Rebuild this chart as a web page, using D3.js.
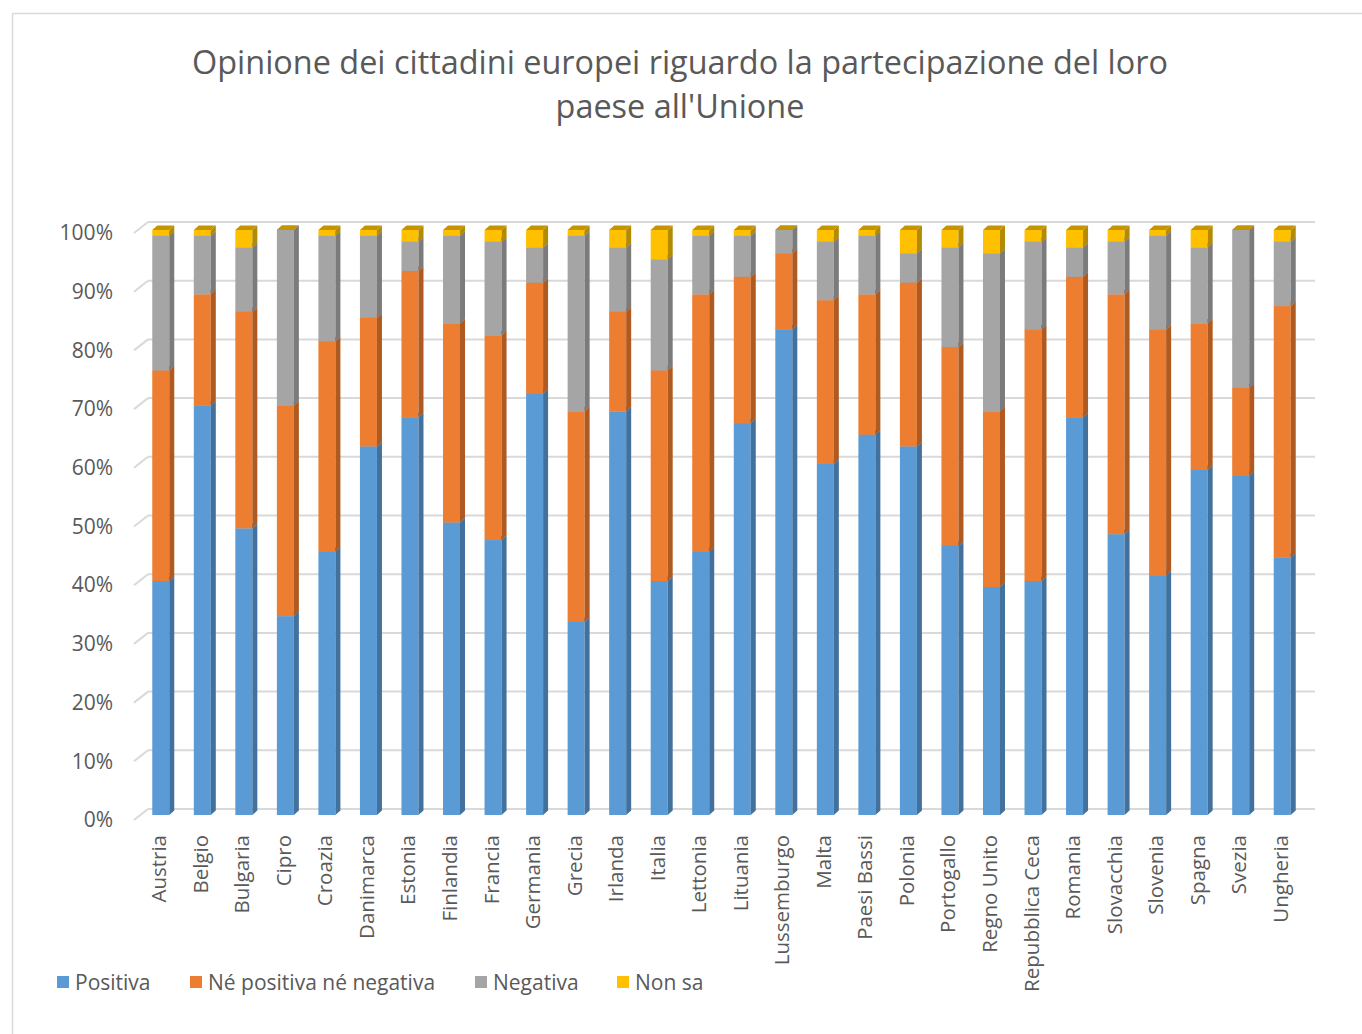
<!DOCTYPE html>
<html><head><meta charset="utf-8">
<script src="https://cdn.jsdelivr.net/npm/d3@7"></script>
<style>html,body{margin:0;padding:0;background:#fff;}svg{display:block;}</style>
</head><body>
<script>
const countries = ["Austria","Belgio","Bulgaria","Cipro","Croazia","Danimarca","Estonia","Finlandia","Francia","Germania","Grecia","Irlanda","Italia","Lettonia","Lituania","Lussemburgo","Malta","Paesi Bassi","Polonia","Portogallo","Regno Unito","Repubblica Ceca","Romania","Slovacchia","Slovenia","Spagna","Svezia","Ungheria"];
const positiva = [40,70,49,34,45,63,68,50,47,72,33,69,40,45,67,83,60,65,63,46,39,40,68,48,41,59,58,44];
const neutra   = [36,19,37,36,36,22,25,34,35,19,36,17,36,44,25,13,28,24,28,34,30,43,24,41,42,25,15,43];
const negativa = [23,10,11,30,18,14,5,15,16,6,30,11,19,10,7,4,10,10,5,17,27,15,5,9,16,13,27,11];
const nonsa    = [1,1,3,0,1,1,2,1,2,3,1,3,5,1,1,0,2,1,4,3,4,2,3,2,1,3,0,2];
const seriesNames = ["Positiva","Né positiva né negativa","Negativa","Non sa"];
const yTicks = [0,0.1,0.2,0.3,0.4,0.5,0.6,0.7,0.8,0.9,1];
const titleLines = ["Opinione dei cittadini europei riguardo la partecipazione del loro","paese all'Unione"];

const W = 1362, H = 1034;
const font = "'Open Sans', 'DejaVu Sans', sans-serif";
const txt = "#595959";
const colors = ["#5B9BD5","#ED7D31","#A5A5A5","#FFC000"];
const sideCol = ["#41719C","#AE5A21","#7B7B7B","#B38A00"];
const topCol = ["#4C88C0","#C8661F","#8E8E8E","#C49500"];

const svg = d3.select("body").append("svg").attr("width", W).attr("height", H);
svg.append("rect").attr("width", W).attr("height", H).attr("fill", "#fff");
svg.append("rect").attr("x", 12.5).attr("y", 13.5).attr("width", 1420).attr("height", 1100)
  .attr("fill", "none").attr("stroke", "#d9d9d9").attr("stroke-width", 1.5);

// title
const tg = svg.append("g");
const t1 = tg.append("text").attr("x", 680).attr("y", 74).attr("text-anchor", "middle")
  .attr("font-family", font).attr("font-size", 30).attr("fill", txt).text(titleLines[0]);
const w1 = t1.node().getComputedTextLength();
const tSize = 30 * 976 / w1;
t1.attr("font-size", tSize);
tg.append("text").attr("x", 680).attr("y", 118).attr("text-anchor", "middle")
  .attr("font-family", font).attr("font-size", tSize).attr("fill", txt).text(titleLines[1]);

// scales
const yFront = d3.scaleLinear().domain([0,1]).range([820,233]);
const yBack = d3.scaleLinear().domain([0,1]).range([809,222]);
const yBar = d3.scaleLinear().domain([0,100]).range([815,230]);
const x = d3.scaleBand().domain(countries).range([140,1303]).paddingInner(0).paddingOuter(0);
const xBackL = 148, xBackR = 1315, xFrontL = 134;

// gridlines (back wall) + diagonal floor ticks
const grid = svg.append("g");
yTicks.forEach(v => {
  grid.append("line").attr("x1", xBackL).attr("x2", xBackR).attr("y1", yBack(v)).attr("y2", yBack(v))
    .attr("stroke", "#d9d9d9").attr("stroke-width", 2);
  grid.append("line").attr("x1", xFrontL).attr("x2", xBackL).attr("y1", yFront(v)).attr("y2", yBack(v))
    .attr("stroke", "#d9d9d9").attr("stroke-width", 2);
});

// y axis labels
const yAxis = svg.append("g").attr("transform", "translate(120,0)")
  .call(d3.axisLeft(yFront).tickValues(yTicks).tickSize(0).tickPadding(7).tickFormat(d3.format(".0%")));
yAxis.select(".domain").remove();
yAxis.selectAll("text").attr("font-family", font).attr("font-size", 21).attr("fill", txt);

// bars
const series = [positiva, neutra, negativa, nonsa];
const bw = 17, dx = 5, dy = -4.5;
const barsG = svg.append("g");
countries.forEach((c, i) => {
  const cx = x(c) + x.bandwidth() / 2;
  const xl = cx - bw / 2, xr = cx + bw / 2;
  let acc = 0;
  series.forEach((s, k) => {
    const v = s[i];
    const y0 = yBar(acc), y1 = yBar(acc + v);
    acc += v;
    const g = barsG.append("g");
    g.append("rect").attr("x", xl).attr("y", y1).attr("width", bw).attr("height", Math.max(0, y0 - y1)).attr("fill", colors[k]);
    g.append("path").attr("d", `M${xr},${y1}L${xr+dx},${y1+dy}L${xr+dx},${y0+dy}L${xr},${y0}Z`).attr("fill", sideCol[k]);
    g.append("path").attr("d", `M${xl},${y1}L${xr},${y1}L${xr+dx},${y1+dy}L${xl+dx},${y1+dy}Z`).attr("fill", topCol[k]);
  });
});

// x labels
const xl = svg.append("g");
countries.forEach(c => {
  const cx = x(c) + x.bandwidth() / 2;
  xl.append("text").attr("transform", `translate(${cx + 5.5},835) rotate(-90)`)
    .attr("text-anchor", "end").attr("font-family", font).attr("font-size", 20.5).attr("fill", txt).text(c);
});

// legend
const legX = [57, 190, 475, 617];
const lg = svg.append("g");
seriesNames.forEach((n, k) => {
  lg.append("rect").attr("x", legX[k]).attr("y", 976).attr("width", 12).attr("height", 12).attr("fill", colors[k]);
  lg.append("text").attr("x", legX[k] + 18).attr("y", 990).attr("font-family", font).attr("font-size", 21)
    .attr("fill", txt).text(n);
});
</script>
</body></html>
